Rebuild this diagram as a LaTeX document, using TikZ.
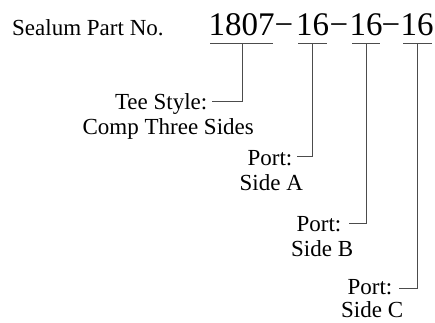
\documentclass[tikz,border=0pt]{standalone}
\usepackage{fontspec}
\setmainfont{Liberation Serif}
\begin{document}
\begin{tikzpicture}[x=1pt,y=-1pt,
  lbl/.style={inner sep=0pt,font=\fontsize{23}{23}\selectfont},
  big/.style={inner sep=0pt,font=\fontsize{33}{33}\selectfont},
  ln/.style={draw=black!70,line width=0.9pt}]
\useasboundingbox (0,0) rectangle (435,322);
\node[lbl,anchor=base west] (title) at (12,35) {Sealum Part No.};
\node[big,anchor=base] (g1) at (241.5,35) {1807};
\node[big,anchor=base] (d1) at (284,35) {−};
\node[big,anchor=base] (g2) at (312.5,35) {16};
\node[big,anchor=base] (d2) at (339,35) {−};
\node[big,anchor=base] (g3) at (366,35) {16};
\node[big,anchor=base] (d3) at (391,35) {−};
\node[big,anchor=base] (g4) at (417,35) {16};
% underlines
\coordinate (u1a) at (210,43); \coordinate (u1b) at (273,43);
\coordinate (u2a) at (298,43); \coordinate (u2b) at (327,43);
\coordinate (u3a) at (352,43); \coordinate (u3b) at (380,43);
\coordinate (u4a) at (403,43); \coordinate (u4b) at (432,43);
\draw[ln] (u1a) -- (u1b); \draw[ln] (u2a) -- (u2b);
\draw[ln] (u3a) -- (u3b); \draw[ln] (u4a) -- (u4b);
% labels
\node[lbl,anchor=base east] (tee) at (207.5,109) {Tee Style:};
\node[lbl,anchor=base east] (comp) at (254,134) {Comp Three Sides};
\node[lbl,anchor=base east] (pa) at (292.5,165) {Port:};
\node[lbl,anchor=base west] (sa) at (239.5,190) {Side A};
\node[lbl,anchor=base east] (pb) at (341.5,231) {Port:};
\node[lbl,anchor=base west] (sb) at (291,256) {Side B};
\node[lbl,anchor=base east] (pc) at (392.5,294) {Port:};
\node[lbl,anchor=base west] (sc) at (341,317.5) {Side C};
% connectors
\coordinate (t1) at (242,43); \coordinate (c1) at (242,101.5); \coordinate (e1) at (212,101.5);
\coordinate (t2) at (312.5,43); \coordinate (c2) at (312.5,156.5); \coordinate (e2) at (297,156.5);
\coordinate (t3) at (366,43); \coordinate (c3) at (366,223); \coordinate (e3) at (348.5,223);
\coordinate (t4) at (417,43); \coordinate (c4) at (417,288); \coordinate (e4) at (399,288);
\draw[ln] (t1) -- (c1) -- (e1);
\draw[ln] (t2) -- (c2) -- (e2);
\draw[ln] (t3) -- (c3) -- (e3);
\draw[ln] (t4) -- (c4) -- (e4);
\end{tikzpicture}
\end{document}
